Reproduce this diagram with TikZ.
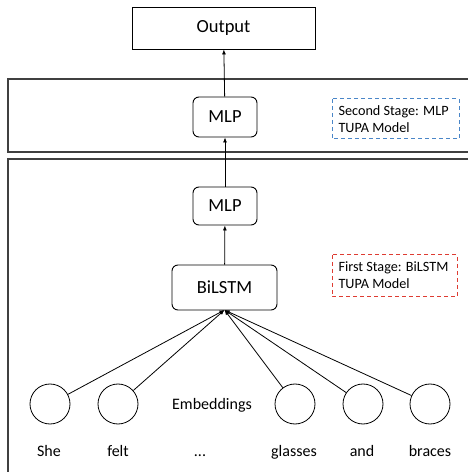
\documentclass[tikz,border=0pt]{standalone}
\usepackage{fontspec}
\setmainfont{Carlito}
\usetikzlibrary{arrows.meta}
\begin{document}
\begin{tikzpicture}[x=1pt,y=1pt,
  frame/.style={draw=black!75, line width=1.2pt},
  rbox/.style={draw, rounded corners=6pt, line width=0.9pt, font=\fontsize{18.5}{20}\selectfont, inner sep=0pt},
  lbl/.style={dashed, line width=1pt, dash pattern=on 4pt off 3pt},
  emb/.style={draw, circle, minimum size=40pt, inner sep=0pt, line width=0.8pt},
  word/.style={font=\fontsize{16}{18}\selectfont},
  arr/.style={-{Latex[length=5pt,width=4pt]}, line width=0.8pt},
  stagetxt/.style={font=\fontsize{14.2}{16.7}\selectfont, align=left, anchor=north west}
]
\useasboundingbox (0,0) rectangle (468,472);
\clip (0,0) rectangle (468,472);
% stage frames
\draw[frame] (480,393) -- (8,393) -- (8,320) -- (480,320);
\draw[frame] (480,313) -- (8,313) -- (8,-10);
% output
\node[draw, line width=0.9pt, minimum width=183pt, minimum height=42pt, inner sep=0pt, font=\fontsize{18.5}{20}\selectfont] (out) at (223.5,444) {Output};
\node[rbox, minimum width=64pt, minimum height=40pt] (mlp2) at (225,355) {MLP};
\node[rbox, minimum width=64pt, minimum height=38pt] (mlp1) at (225,266) {MLP};
\node[rbox, minimum width=105pt, minimum height=45pt] (bil) at (224.5,184.5) {BiLSTM};
% stage labels
\draw[lbl, draw={rgb,255:red,74;green,134;blue,200}] (332,373) rectangle (459,333);
\node[stagetxt] (s2) at (335,370) {Second Stage: MLP\\TUPA Model};
\draw[lbl, draw={rgb,255:red,222;green,60;blue,50}] (332,217) rectangle (457,175);
\node[stagetxt] (s1) at (335,214) {First Stage: BiLSTM\\TUPA Model};
% embeddings
\node[emb] (e1) at (50,68) {};
\node[emb] (e2) at (118,68) {};
\node[emb] (e3) at (295,68) {};
\node[emb] (e4) at (363,68) {};
\node[emb] (e5) at (430,68) {};
\node[word] (emb) at (212,67) {Embeddings};
\node[word, anchor=base] (w1) at (49,16) {She};
\node[word, anchor=base] (w2) at (118,16) {felt};
\node[word, anchor=base] (w3) at (200,16) {...};
\node[word, anchor=base] (w4) at (294,16) {glasses};
\node[word, anchor=base] (w5) at (362,16) {and};
\node[word, anchor=base] (w6) at (430,16) {braces};
% arrows
\coordinate (bs) at (224.5,162);
\foreach \e in {e1,e2,e3,e4,e5} \draw[arr] (\e) -- (bs);
\draw[arr] (bil) -- (mlp1);
\draw[arr] (mlp1) -- (mlp2);
\draw[arr] (mlp2) -- (out);
\end{tikzpicture}
\end{document}
